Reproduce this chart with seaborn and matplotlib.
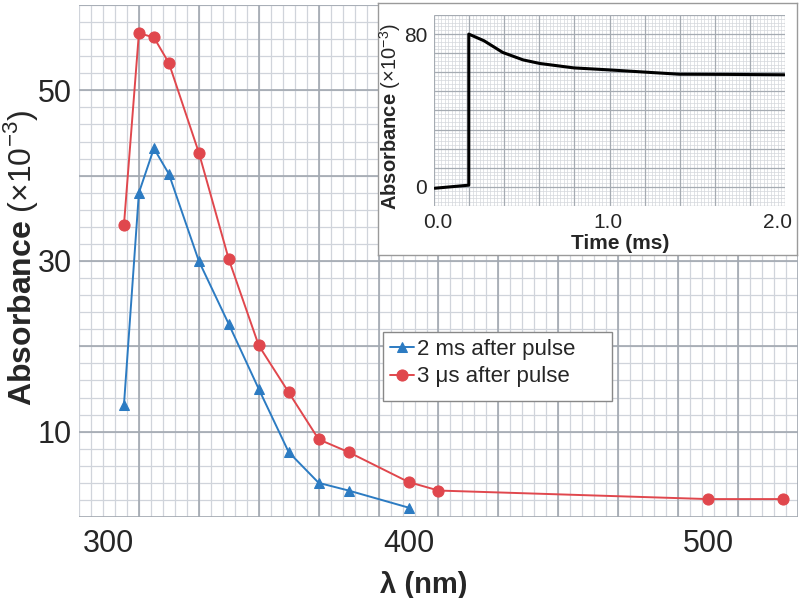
import numpy as np
import pandas as pd
import matplotlib
matplotlib.use("Agg")
import matplotlib.pyplot as plt
from matplotlib.patches import Rectangle
import seaborn as sns

# spectra (absorbance x1e-3)
wavelength_2ms = [305, 310, 315, 320, 330, 340, 350, 360, 370, 380, 400]
absorb_2ms = [13.1, 38.0, 43.2, 40.2, 30.0, 22.6, 15.0, 7.6, 4.0, 3.1, 1.1]
wavelength_3us = [305, 310, 315, 320, 330, 340, 350, 360, 370, 380, 400, 410, 500, 525]
absorb_3us = [34.2, 56.7, 56.2, 53.2, 42.7, 30.2, 20.1, 14.6, 9.1, 7.6, 4.1, 3.1, 2.1, 2.1]

# inset transient
time_ms = [-0.02, 0.18, 0.18, 0.27, 0.38, 0.50, 0.60, 0.80, 1.00, 1.20, 1.42, 1.70, 2.04]
transient = [-0.7, 0.9, 80.0, 76.5, 70.4, 66.5, 64.6, 62.3, 61.3, 60.2, 59.0, 58.9, 58.7]

label_2ms = "2 ms after pulse"
label_3us = "3 μs after pulse"

sns.set_theme(style="white")
plt.rcParams["font.family"] = ["Liberation Sans", "DejaVu Sans"]
plt.rcParams["mathtext.fontset"] = "custom"
plt.rcParams["mathtext.rm"] = "Liberation Sans"
plt.rcParams["mathtext.bf"] = "Liberation Sans:bold"

blue = "#2c7bc2"
red = "#e0474d"
minor_c = "#d0d4db"
major_c = "#a2a8b0"

fig = plt.figure(figsize=(8, 5.98), dpi=100)

# ---- main spectrum ----
ax = fig.add_axes([79 / 800, 1 - 517 / 598, 719 / 800, 512 / 598])
xlo, xhi, ylo, yhi = 290, 530, 0, 60
ax.vlines(np.arange(xlo, xhi + 1, 4), ylo, yhi, color=minor_c, lw=0.9, zorder=0)
ax.hlines(np.arange(ylo, yhi + 1, 2), xlo, xhi, color=minor_c, lw=0.9, zorder=0)
ax.vlines(np.arange(310, xhi + 1, 20), ylo, yhi, color=major_c, lw=1.2, zorder=0)
ax.hlines(np.arange(ylo, yhi + 1, 10), xlo, xhi, color=major_c, lw=1.2, zorder=0)

df_2ms = pd.DataFrame({"wl": wavelength_2ms, "A": absorb_2ms})
df_3us = pd.DataFrame({"wl": wavelength_3us, "A": absorb_3us})
sns.lineplot(data=df_2ms, x="wl", y="A", ax=ax, color=blue, marker="^", markersize=7,
             markeredgecolor=blue, lw=1.4, label=label_2ms)
sns.lineplot(data=df_3us, x="wl", y="A", ax=ax, color=red, marker="o", markersize=8,
             markeredgecolor=red, lw=1.4, label=label_3us)

ax.set_xlim(xlo, xhi)
ax.set_ylim(ylo, yhi)
ax.set_xticks([300, 400, 500])
ax.set_yticks([10, 30, 50])
ax.tick_params(axis="x", length=0, pad=9, labelsize=22)
ax.tick_params(axis="y", length=0, pad=5, labelsize=22)
ax.set_xlabel("")
ax.set_ylabel("")
for s in ax.spines.values():
    s.set_visible(False)

# legend frame drawn separately so it can be wider than the text
ax.add_patch(Rectangle((383 / 800, 1 - 401 / 598), 229 / 800, 69 / 598,
                       transform=fig.transFigure, facecolor="white",
                       edgecolor="#888888", lw=1.0, zorder=4))
leg = ax.legend(loc="upper left", bbox_to_anchor=((383 - 79) / 719, (517 - 332) / 512),
                borderaxespad=0, fontsize=16, handlelength=1.1, handletextpad=0.15,
                labelspacing=0.3, borderpad=0.3, frameon=False)
leg.set_zorder(5)

fig.text(31 / 800, 1 - 258 / 598, r"$\mathbf{Absorbance}$ (×10$^{-3}$)",
         rotation=90, rotation_mode="anchor", ha="center", va="baseline", fontsize=23)
fig.text(424 / 800, 1 - 585 / 598, "λ (nm)", ha="center", va="center",
         fontsize=21, fontweight="bold")

# ---- inset box ----
box = fig.add_axes([378 / 800, 1 - 255 / 598, 419 / 800, 252 / 598], zorder=2)
box.set_xticks([])
box.set_yticks([])
box.set_facecolor("white")
for s in box.spines.values():
    s.set_color("#9a9a9a")
    s.set_linewidth(1.0)

ins = fig.add_axes([434 / 800, 1 - 206 / 598, 351 / 800, 191 / 598], zorder=3)
txlo, txhi, tylo, tyhi = -0.025, 2.044, -10, 90
ins.vlines(np.linspace(txlo, txhi, 101), tylo, tyhi, color="#d4d7dc", lw=0.5, zorder=0)
ins.hlines(np.arange(tylo, tyhi + 0.1, 2), txlo, txhi, color="#d4d7dc", lw=0.5, zorder=0)
ins.vlines(np.linspace(txlo, txhi, 11), tylo, tyhi, color="#a5abb2", lw=0.9, zorder=0)
ins.hlines(np.arange(tylo, tyhi + 0.1, 10), txlo, txhi, color="#a5abb2", lw=0.9, zorder=0)

df_t = pd.DataFrame({"t": time_ms, "A": transient})
sns.lineplot(data=df_t, x="t", y="A", ax=ins, color="black", lw=2.2,
             sort=False, estimator=None)
ins.set_xlim(txlo, txhi)
ins.set_ylim(tylo, tyhi)
ins.set_xticks([0, 1, 2])
ins.set_xticklabels(["0.0", "1.0", "2.0"])
ins.set_yticks([0, 80])
ins.tick_params(axis="x", length=0, pad=5, labelsize=15)
ins.tick_params(axis="y", length=0, pad=5, labelsize=15)
ins.set_xlabel("")
ins.set_ylabel("")
for s in ins.spines.values():
    s.set_visible(False)

fig.text(397 / 800, 1 - 117 / 598, r"$\mathbf{Absorbance}$ (×10$^{-3}$)",
         rotation=90, rotation_mode="anchor", ha="center", va="baseline",
         fontsize=14.5, zorder=4)
fig.text(620 / 800, 1 - 244 / 598, "Time (ms)", ha="center", va="center",
         fontsize=15, fontweight="bold", zorder=4)

fig.savefig("out.png", dpi=100)
